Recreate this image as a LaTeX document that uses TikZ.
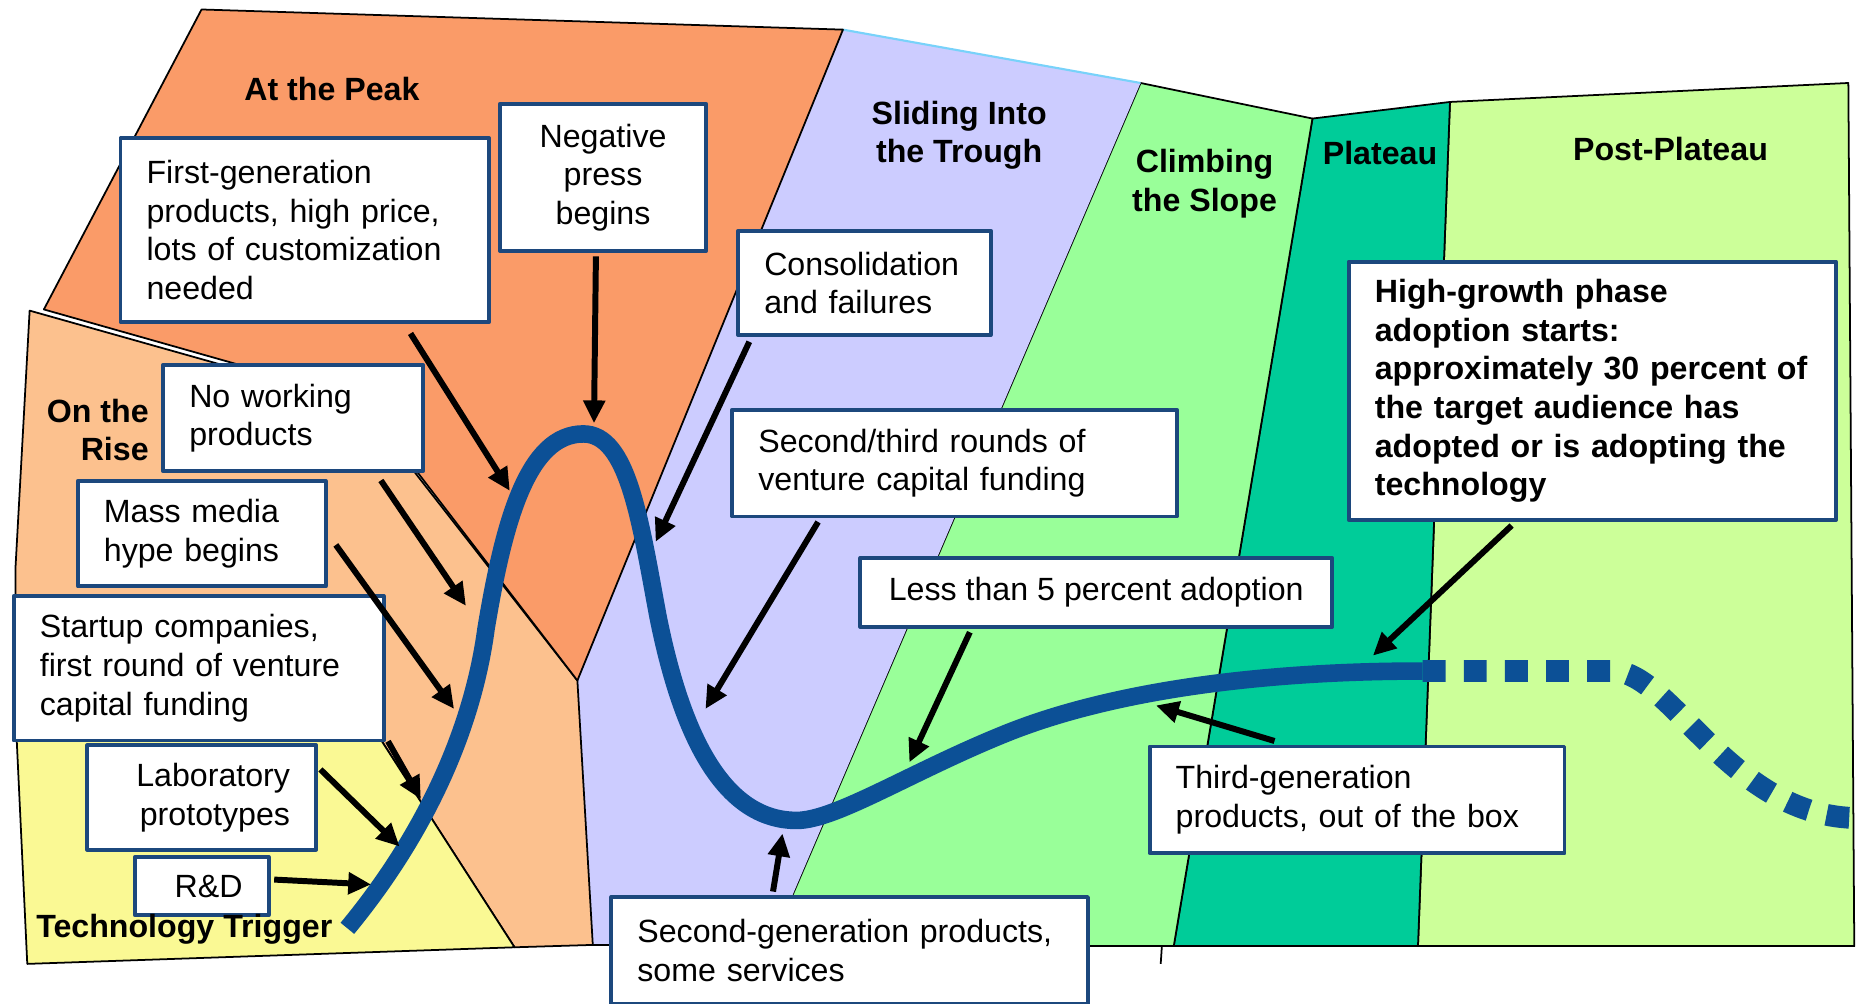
\documentclass[tikz,border=0pt]{standalone}
\usepackage{fontspec}
\setmainfont{Liberation Sans}
\usetikzlibrary{%
  arrows.meta,% Triangle tips
  positioning% wg. " of "
}

\definecolor{peakorange}{RGB}{250,155,104}
\definecolor{risepeach}{RGB}{252,193,142}
\definecolor{triggeryellow}{RGB}{250,249,148}
\definecolor{troughlilac}{RGB}{204,204,255}
\definecolor{slopegreen}{RGB}{153,255,153}
\definecolor{plateauteal}{RGB}{0,204,153}
\definecolor{postgreen}{RGB}{204,255,153}
\definecolor{hypeblue}{RGB}{12,80,150}
\definecolor{boxblue}{RGB}{28,72,125}
\definecolor{edgecyan}{RGB}{120,210,250}

\newlength{\pxu}
\setlength{\pxu}{0.011856cm}
\hyphenpenalty=10000

\begin{document}
\begin{tikzpicture}[
    x=0.011856cm,y=-0.011856cm,
    >={Triangle[length=6.5pt,width=6pt]},
    line join=round,
    phase/.style={draw=black,line width=0.5pt},
    phasename/.style={font=\fontsize{9.15pt}{11pt}\selectfont\bfseries,
        inner sep=0pt,align=center},
    note/.style={rectangle,draw=boxblue,line width=1.1pt,fill=white,
        anchor=north west,inner xsep=22\pxu,inner ysep=0pt,align=left,
        font=\fontsize{9.15pt}{11pt}\selectfont},
    notebold/.style={note,font=\fontsize{9.15pt}{11pt}\selectfont\bfseries},
    hype/.style={draw=hypeblue,line width=5pt},
    pointer/.style={->,line width=1.7pt}
  ]

    \path[use as bounding box,fill=white] (0,0) rectangle (1568,846);

    % the phases
    \filldraw[phase,fill=postgreen] (1223,86) -- (1559,70) -- (1564,798) -- (1196,798) -- cycle;
    \filldraw[phase,fill=plateauteal] (1107,100) -- (1223,86) -- (1196,798) -- (990,798) -- cycle;
    \filldraw[phase,fill=slopegreen] (962,70) -- (1107,100) -- (990,798) -- (650,798) -- cycle;
    \fill[troughlilac] (711,25) -- (962,70) -- (650,798) -- (500,797) -- (487,574) -- cycle;
    \draw[edgecyan,line width=0.6pt] (711,25) -- (962,70);
    \draw[phase] (500,797) -- (650,798);
    \draw[phase] (980,798) -- (979,813);
    \filldraw[phase,fill=risepeach] (25,262) -- (305,341) -- (487,574) -- (500,797)
        -- (434,799) -- (320,622) -- (14,622) -- (13,480) -- cycle;
    \filldraw[phase,fill=triggeryellow] (14,622) -- (320,622) -- (434,799) -- (23,813) -- cycle;
    \filldraw[phase,fill=peakorange] (170,8) -- (711,25) -- (487,574) -- (305,337) -- (37,261) -- cycle;

    % the hype curve
    \draw[hype] (293,783) .. controls (355,708) and (398,620) .. (410,530)
        .. controls (425,440) and (445,366) .. (492,366)
        .. controls (530,366) and (540,440) .. (555,520)
        .. controls (575,620) and (610,692) .. (672,692)
        .. controls (705,692) and (770,650) .. (850,618)
        .. controls (930,586) and (1050,566) .. (1200,566);
    \draw[hype,line width=6.2pt,dash pattern=on 6.5pt off 5.2pt] (1200,566) -- (1360,566)
        .. controls (1410,566) and (1460,690) .. (1568,690);

    \coordinate (negtip)       at (501,357);
    \coordinate (firsttip)     at (430,414);
    \coordinate (noworktip)    at (393,511);
    \coordinate (masstip)      at (383,598);
    \coordinate (startuptip)   at (355,674);
    \coordinate (labtip)       at (337,714);
    \coordinate (rndtip)       at (313,746);
    \coordinate (consoltip)    at (553,457);
    \coordinate (secthirdtip)  at (595,598);
    \coordinate (lesstip)      at (767,643);
    \coordinate (secgentip)    at (660,703);
    \coordinate (thirdtip)     at (975,595);
    \coordinate (hightip)      at (1158,553);

    % the notes
    \node[note,text width=130\pxu,minimum height=124\pxu,align=center] (negpress) at (420,86)
        {Negative\\press\\begins};
    \node[note,text width=267\pxu,minimum height=155\pxu] (firstgen) at (100,115)
        {First-generation\\products, high price,\\lots of customization\\needed};
    \node[note,text width=175\pxu,minimum height=90\pxu] (noworking) at (136,306)
        {No working\\products};
    \node[note,text width=165\pxu,minimum height=89\pxu] (massmedia) at (64,404)
        {Mass media\\hype begins};
    \node[note,text width=268\pxu,minimum height=122\pxu] (startup) at (10,501)
        {Startup companies,\\first round of venture\\capital funding};
    \node[note,text width=149\pxu,minimum height=88\pxu,align=right] (labproto) at (72,627)
        {Laboratory\\prototypes};
    \node[note,text width=69\pxu,minimum height=49\pxu,align=right,below=3\pxu of labproto] (rnd)
        {R\&D};
    \node[note,text width=169\pxu,minimum height=88\pxu] (consol) at (621,193)
        {Consolidation\\and failures};
    \node[note,text width=331\pxu,minimum height=90\pxu] (secthird) at (616,344)
        {Second/third rounds of\\venture capital funding};
    \node[note,minimum width=398\pxu,minimum height=58\pxu] (lessthan) at (724,469)
        {Less than 5 percent adoption};
    \node[notebold,text width=367\pxu,minimum height=218\pxu] (highgrowth) at (1136,219)
        {High-growth phase\\adoption starts:\\approximately 30 percent of\\the target audience has\\adopted or is adopting the\\technology};
    \node[note,text width=306\pxu,minimum height=90\pxu] (thirdgen) at (968,628)
        {Third-generation\\products, out of the box};
    \node[note,text width=358\pxu,minimum height=90\pxu] (secgen) at (514,755)
        {Second-generation products,\\some services};

    % the phase names
    \node[phasename] (peaklbl) at (280,75) {At the Peak};
    \node[phasename,align=right,left=10\pxu of noworking,yshift=-10\pxu] (riselbl) {On the\\Rise};
    \node[phasename,anchor=base west] (triggerlbl) at (30,791) {Technology Trigger};
    \node[phasename] (troughlbl) at (809,114) {Sliding Into\\the Trough};
    \node[phasename] (slopelbl) at (1016,155) {Climbing\\the Slope};
    \node[phasename] (plateaulbl) at (1164,129) {Plateau};
    \node[phasename] (postlbl) at (1409,126) {Post-Plateau};

    \begin{scope}[pointer]
        \draw ([shift={(-6,3)}]negpress.south) -- (negtip);
        \draw ([shift={(-68,8)}]firstgen.south east) -- (firsttip);
        \draw ([shift={(-37,6)}]noworking.south east) -- (noworktip);
        \draw ([shift={(7,9.5)}]massmedia.east) -- (masstip);
        \draw ([shift={(2,-1)}]startup.south east) -- (startuptip);
        \draw ([shift={(2,22)}]labproto.north east) -- (labtip);
        \draw ([shift={(3,-5.5)}]rnd.east) -- (rndtip);
        \draw ([shift={(11,4)}]consol.south west) -- (consoltip);
        \draw ([shift={(74,3)}]secthird.south west) -- (secthirdtip);
        \draw ([shift={(94,3)}]lessthan.south west) -- (lesstip);
        \draw ([shift={(138,-3)}]secgen.north west) -- (secgentip);
        \draw ([shift={(107,-3)}]thirdgen.north west) -- (thirdtip);
        \draw ([shift={(139,3)}]highgrowth.south west) -- (hightip);
    \end{scope}
\end{tikzpicture}
\end{document}
